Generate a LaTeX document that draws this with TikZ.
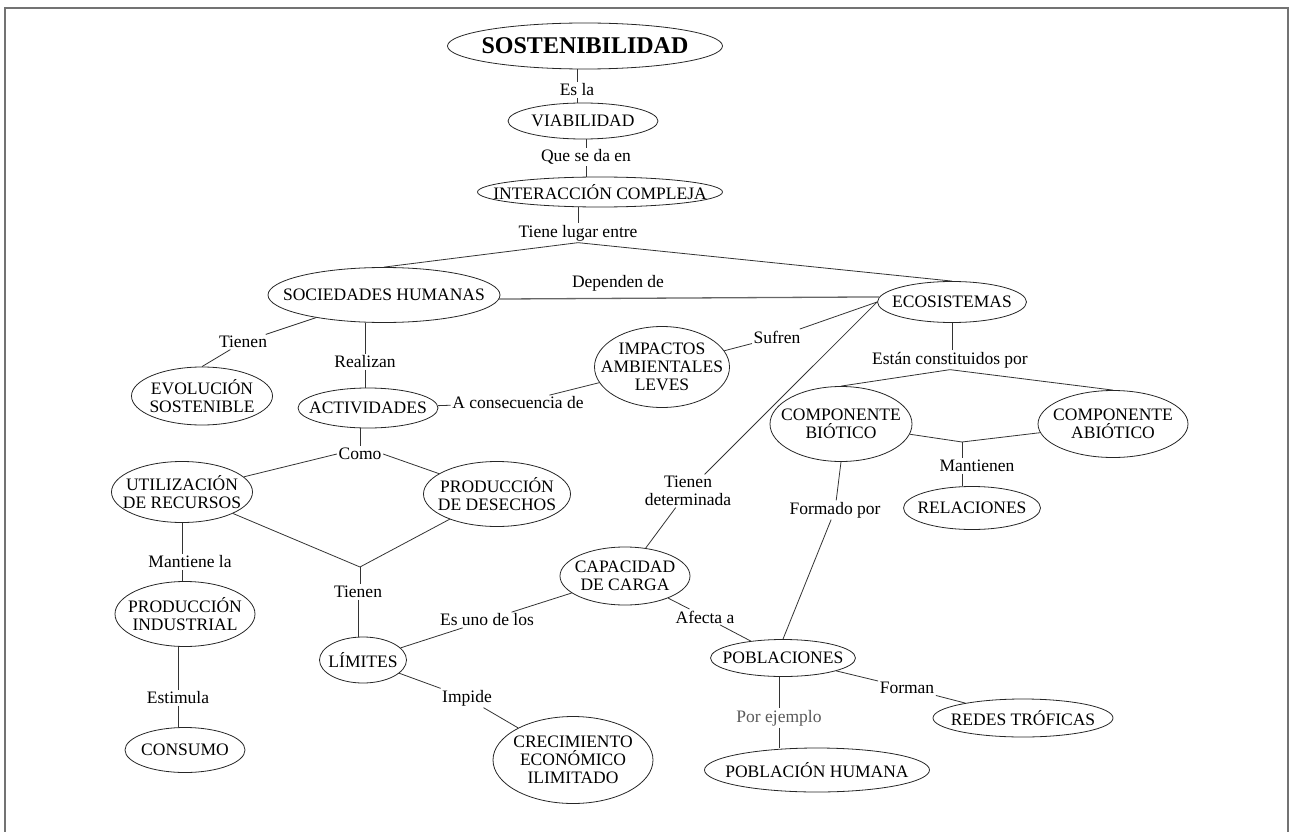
\documentclass[tikz,border=0pt]{standalone}
\usepackage{fontspec}
\setmainfont{Liberation Serif}
\usetikzlibrary{shapes.geometric}
\begin{document}
\begin{tikzpicture}[x=1pt,y=-1pt,
  every node/.style={font=\fontsize{17.5}{18}\selectfont, text=black},
  bub/.style 2 args={ellipse, draw=black!85, line width=0.8pt, minimum width=#1, minimum height=#2, inner sep=0pt},
  lbl/.style={inner sep=1.5pt, align=center},
  con/.style={draw=black!80, line width=0.8pt}]
\useasboundingbox (0,0) rectangle (1293,832);
\draw[black!55, line width=1.5pt] (5,832) -- (5,8) -- (1288,8) -- (1288,832);

% concept nodes
\node[bub={275pt}{46pt}, label={[font=\fontsize{24}{26}\selectfont\bfseries]center:SOSTENIBILIDAD}] (sost) at (585,46) {};
\node[bub={150pt}{36pt}, label={center:VIABILIDAD}] (viab) at (583,121) {};
\node[bub={245pt}{30pt}, label={center:INTERACCIÓN COMPLEJA}] (inter) at (600,192) {};
\node[bub={232pt}{55pt}, label={center:SOCIEDADES HUMANAS}] (soc) at (384,295) {};
\node[bub={149pt}{41pt}, label={center:ECOSISTEMAS}] (eco) at (952,302) {};
\node[bub={141pt}{58pt}, label={[align=center]center:EVOLUCIÓN\\SOSTENIBLE}] (evo) at (202,396) {};
\node[bub={140pt}{40pt}, label={center:ACTIVIDADES}] (act) at (368,408) {};
\node[bub={135pt}{81pt}, label={[align=center]center:IMPACTOS\\AMBIENTALES\\LEVES}] (imp) at (662,367) {};
\node[bub={142pt}{75pt}, label={[align=center]center:COMPONENTE\\BIÓTICO}] (bio) at (841,424) {};
\node[bub={150pt}{67pt}, label={[align=center]center:COMPONENTE\\ABIÓTICO}] (abio) at (1113,424) {};
\node[bub={137pt}{43pt}, label={center:RELACIONES}] (rel) at (972,508) {};
\node[bub={141pt}{61pt}, label={[align=center]center:UTILIZACIÓN\\DE RECURSOS}] (util) at (182,492) {};
\node[bub={147pt}{65pt}, label={[align=center]center:PRODUCCIÓN\\DE DESECHOS}] (prod) at (497,494) {};
\node[bub={140pt}{65pt}, label={[align=center]center:PRODUCCIÓN\\INDUSTRIAL}] (pind) at (185,614) {};
\node[bub={130pt}{58pt}, label={[align=center]center:CAPACIDAD\\DE CARGA}] (cap) at (625,576) {};
\node[bub={87pt}{46pt}, label={center:LÍMITES}] (lim) at (363,660) {};
\node[bub={145pt}{37pt}, label={center:POBLACIONES}] (pobl) at (783,658) {};
\node[bub={180pt}{38pt}, label={center:REDES TRÓFICAS}] (redes) at (1023,718) {};
\node[bub={120pt}{45pt}, label={center:CONSUMO}] (cons) at (185,750) {};
\node[bub={160pt}{87pt}, label={[align=center]center:CRECIMIENTO\\ECONÓMICO\\ILIMITADO}] (crec) at (573,760) {};
\node[bub={225pt}{44pt}, label={center:POBLACIÓN HUMANA}] (pobh) at (817,770) {};

% linking words
\node[lbl] (esla) at (577,90) {Es la};
\node[lbl] (que) at (586,157) {Que se da en};
\node[lbl] (tl) at (578,233) {Tiene lugar entre};
\node[lbl] (dep) at (618,283) {Dependen de};
\node[lbl] (tien1) at (243,342) {Tienen};
\node[lbl] (real) at (365,362) {Realizan};
\node[lbl] (acons) at (518,403) {A consecuencia de};
\node[lbl] (sufren) at (777,337) {Sufren};
\node[lbl] (estan) at (950,360) {Están constituidos por};
\node[lbl] (mant) at (977,466) {Mantienen};
\node[lbl] (como) at (360,454) {Como};
\node[lbl] (tdet) at (688,491) {Tienen\\determinada};
\node[lbl] (form) at (835,510) {Formado por};
\node[lbl] (mantla) at (190,562) {Mantiene la};
\node[lbl] (tien2) at (358,592) {Tienen};
\node[lbl] (esuno) at (487,620) {Es uno de los};
\node[lbl] (afecta) at (705,617) {Afecta a};
\node[lbl] (impide) at (467,698) {Impide};
\node[lbl] (estim) at (178,698) {Estimula};
\node[lbl] (forman) at (907,688) {Forman};
\node[lbl, text=black!65] (porej) at (779,718) {Por ejemplo};

\coordinate (j1) at (360,567);
\coordinate (j2) at (962,442);

% connectors
\draw[con] (sost.south -| esla.north) -- (esla.north);
\draw[con] (esla.south) -- (esla.south |- viab.north);
\draw[con] (viab.south -| que.north) -- (que.north);
\draw[con] (que.south) -- (que.south |- inter.north);
\draw[con] (inter.south -| tl.north) -- (tl.north);
\draw[con] (tl.south) -- (soc.north);
\draw[con] (tl.south) -- (eco.north);
\draw[con, draw=black!60, line width=1.3pt] (soc.-2) -- (eco.176);
\draw[con] (soc) -- (tien1);
\draw[con] (tien1) -- (evo.north);
\draw[con] (real.north |- soc.south) -- (real.north);
\draw[con] (real.south) -- (real.south |- act.north);
\draw[con] (act) -- (acons);
\draw[con] (acons) -- (imp);
\draw[con] (act.south -| como.north) -- (como.north);
\draw[con] (como.west) -- (util);
\draw[con] (como.east) -- (prod);
\draw[con] (util) -- (j1);
\draw[con] (prod) -- (j1);
\draw[con] (j1) -- (j1 |- tien2.north);
\draw[con] (tien2.south) -- (tien2.south |- lim.north);
\draw[con] (util.south) -- (util.south |- mantla.north);
\draw[con] (util.south |- mantla.south) -- (util.south |- pind.north);
\draw[con] (pind.south -| estim.north) -- (estim.north);
\draw[con] (estim.south) -- (estim.south |- cons.north);
\draw[con] (lim) -- (esuno);
\draw[con] (esuno) -- (cap);
\draw[con] (lim) -- (impide);
\draw[con] (impide) -- (crec);
\draw[con] (eco.west) -- (sufren);
\draw[con] (sufren) -- (imp);
\draw[con] (eco.west) -- (tdet);
\draw[con] (tdet) -- (cap);
\draw[con] (eco.south) -- (eco.south |- estan.north);
\draw[con] (estan.south) -- (bio.north);
\draw[con] (estan.south) -- (abio.north);
\draw[con] (bio) -- (j2);
\draw[con] (abio) -- (j2);
\draw[con] (j2) -- (j2 |- mant.north);
\draw[con] (j2 |- mant.south) -- (j2 |- rel.north);
\draw[con] (bio.south) -- (form);
\draw[con] (form) -- (pobl.north);
\draw[con] (cap) -- (afecta);
\draw[con] (afecta) -- (pobl);
\draw[con] (pobl) -- (forman);
\draw[con] (forman) -- (redes);
\draw[con] (pobl.south -| porej.north) -- (porej.north);
\draw[con] (porej.south) -- (porej.south |- pobh.north);
\end{tikzpicture}
\end{document}
